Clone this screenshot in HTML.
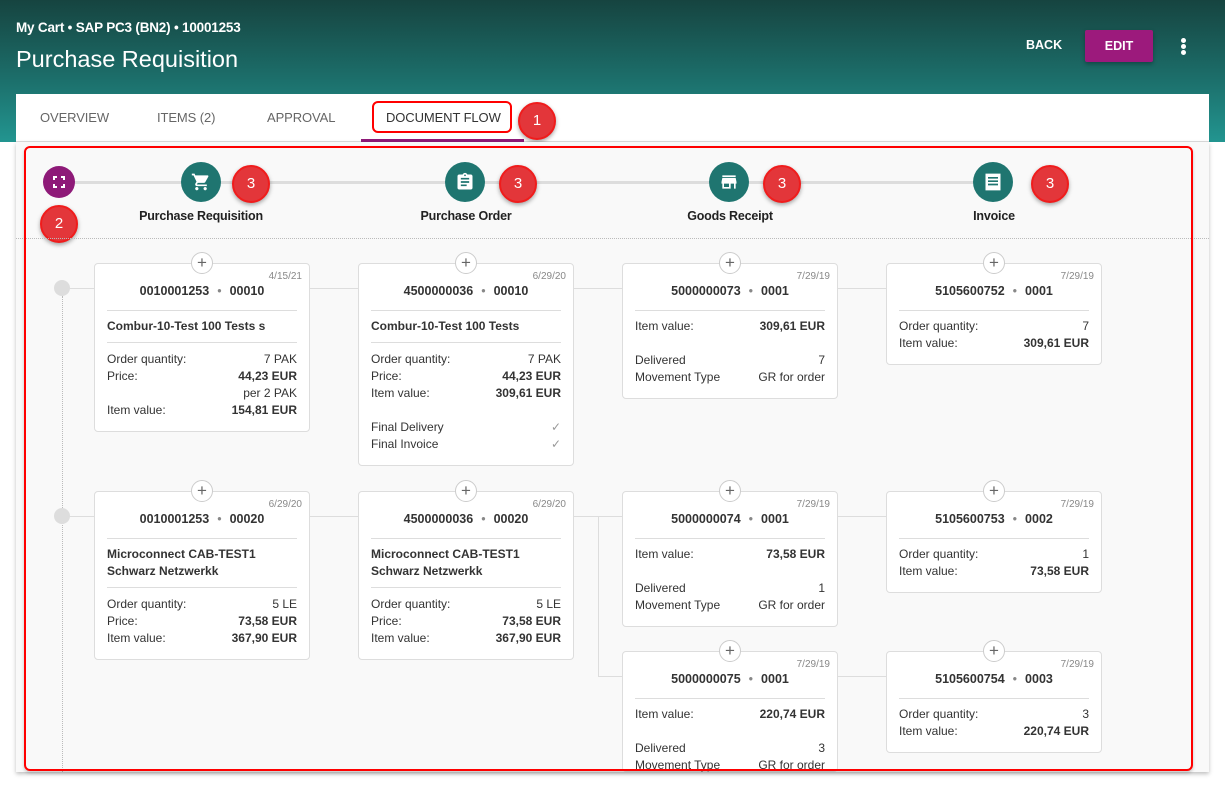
<!DOCTYPE html>
<html><head><meta charset="utf-8">
<style>
*{box-sizing:border-box;margin:0;padding:0}
body{width:1225px;height:788px;overflow:hidden;background:#fff;font-family:"Liberation Sans",Arial,sans-serif;color:#333;position:relative}
.abs{position:absolute}
#hdr{left:0;top:0;width:1225px;height:142px;background:linear-gradient(to bottom,#164440 0%,#1c6e6a 55%,#229590 100%)}
.crumb{left:16px;top:20px;color:#fff;font-size:13.5px;font-weight:bold;letter-spacing:-.2px}
.title{left:16px;top:46px;color:#fff;font-size:23.5px}
.back{left:1026px;top:38px;color:#fff;font-size:12.5px;font-weight:bold}
.edit{left:1085px;top:30px;width:68px;height:32px;background:#9c1a7c;color:#fff;font-size:12.5px;font-weight:bold;text-align:center;line-height:32px;border-radius:2px;box-shadow:0 2px 4px rgba(0,0,0,.3)}
.dot{width:5px;height:5px;border-radius:50%;background:#fff;left:1181px}
#tabs{left:16px;top:94px;width:1193px;height:48px;background:#fff;border-bottom:1px solid #ddd}
.tab{top:110px;font-size:13px;color:#666;letter-spacing:-.1px}
#main{left:16px;top:142px;width:1193px;height:630px;background:#f9f9f9;box-shadow:0 2px 4px rgba(0,0,0,.25)}
.red{border:2px solid #f00;border-radius:6px}
.badge{width:38px;height:38px;border-radius:50%;background:#e3363a;border:2px solid #f01c1c;color:#fff;font-size:15px;text-align:center;line-height:34px;box-shadow:0 2px 4px rgba(0,0,0,.35)}
.ic{width:40px;height:40px;border-radius:50%;background:#1f7570}
.lbl{top:209px;font-size:12.5px;font-weight:bold;color:#222;text-align:center;width:200px;letter-spacing:-.2px}
.card{position:absolute;width:216px;background:#fff;border:1px solid #ddd;border-radius:4px;padding:0 12px 12px;font-size:12px}
.card .d{position:absolute;top:7px;right:7px;font-size:10px;color:#888}
.card .n{margin-top:19px;line-height:16px;text-align:center;font-weight:bold;font-size:12.5px;color:#333}
.card .n span{color:#888;margin:0 8px;font-weight:normal}
.card .hr{height:1px;background:#ddd;margin-top:11px}
.card .t{margin-top:7px;font-weight:bold;line-height:17px}
.card .hr2{height:1px;background:#ddd;margin-top:7px}
.card .rows{margin-top:8px}
.card .rows2{margin-top:7px}
.r{display:flex;justify-content:space-between;line-height:17px;height:17px}
.r b{font-weight:bold}
.plus{position:absolute;top:-12px;left:96px;width:22px;height:22px;border-radius:50%;background:#fff;border:1px solid #ccc;text-align:center;line-height:19px;color:#666;font-size:17px}
.hl{height:1px;background:#ddd}
.vl{width:1px;background:#ddd}
</style></head><body>
<div id="hdr" class="abs"></div>
<div class="abs crumb">My Cart • SAP PC3 (BN2) • 10001253</div>
<div class="abs title">Purchase Requisition</div>
<div class="abs back">BACK</div>
<div class="abs edit">EDIT</div>
<div class="abs dot" style="top:38px"></div><div class="abs dot" style="top:44px"></div><div class="abs dot" style="top:50px"></div>

<div id="tabs" class="abs"></div>
<div class="abs tab" style="left:40px">OVERVIEW</div>
<div class="abs tab" style="left:157px">ITEMS (2)</div>
<div class="abs tab" style="left:267px">APPROVAL</div>
<div class="abs tab" style="left:386px;color:#333">DOCUMENT FLOW</div>
<div class="abs" style="left:361px;top:139px;width:163px;height:3px;background:#8e1a78"></div>
<div class="abs red" style="left:372px;top:101px;width:140px;height:32px"></div>
<div class="abs badge" style="left:518px;top:102px">1</div>

<div id="main" class="abs"></div>
<!-- timeline -->
<div class="abs" style="left:60px;top:181px;width:950px;height:3px;background:#ddd"></div>
<div class="abs" style="left:43px;top:166px;width:32px;height:32px;border-radius:50%;background:#8e1a78"></div>
<svg class="abs" style="left:53px;top:176px" width="12" height="12" viewBox="0 0 12 12"><path d="M1 4V1h3M8 1h3v3M11 8v3H8M4 11H1V8" fill="none" stroke="#fff" stroke-width="2"/></svg>
<div class="abs ic" style="left:181px;top:162px"></div>
<div class="abs ic" style="left:445px;top:162px"></div>
<div class="abs ic" style="left:709px;top:162px"></div>
<div class="abs ic" style="left:973px;top:162px"></div>
<svg class="abs" style="left:191px;top:172px" width="20" height="20" viewBox="0 0 24 24"><path fill="#fff" d="M7 18c-1.1 0-2 .9-2 2s.9 2 2 2 2-.9 2-2-.9-2-2-2zM1 2v2h2l3.6 7.6-1.4 2.4c-.1.3-.2.6-.2 1 0 1.1.9 2 2 2h12v-2H7.4c-.1 0-.2-.1-.2-.2v-.1l.9-1.700h7.4c.8 0 1.4-.4 1.7-1l3.6-6.5c.1-.2.1-.3.1-.5 0-.6-.4-1-1-1H5.2l-.9-2H1zm16 16c-1.1 0-2 .9-2 2s.9 2 2 2 2-.9 2-2-.9-2-2-2z"/></svg>
<svg class="abs" style="left:455px;top:172px" width="20" height="20" viewBox="0 0 24 24"><path fill="#fff" d="M19 3h-4.2C14.4 1.8 13.3 1 12 1s-2.4.8-2.8 2H5c-1.1 0-2 .9-2 2v14c0 1.1.9 2 2 2h14c1.1 0 2-.9 2-2V5c0-1.1-.9-2-2-2zm-7 0c.6 0 1 .4 1 1s-.4 1-1 1-1-.4-1-1 .4-1 1-1zm2 14H7v-2h7v2zm3-4H7v-2h10v2zm0-4H7V7h10v2z"/></svg>
<svg class="abs" style="left:719px;top:172px" width="20" height="20" viewBox="0 0 24 24"><path fill="#fff" d="M20 4H4v2h16V4zm1 10v-2l-1-5H4l-1 5v2h1v6h10v-6h4v6h2v-6h1zm-9 4H6v-4h6v4z"/></svg>
<svg class="abs" style="left:983px;top:172px" width="20" height="20" viewBox="0 0 24 24"><path fill="#fff" d="M3 2h18v20H3zM6 6v2h12V6zm0 4v2h12v-2zm0 4v2h12v-2z"/></svg>
<div class="abs lbl" style="left:101px">Purchase Requisition</div>
<div class="abs lbl" style="left:366px">Purchase Order</div>
<div class="abs lbl" style="left:630px">Goods Receipt</div>
<div class="abs lbl" style="left:894px">Invoice</div>
<div class="abs badge" style="left:232px;top:165px">3</div>
<div class="abs badge" style="left:499px;top:165px">3</div>
<div class="abs badge" style="left:763px;top:165px">3</div>
<div class="abs badge" style="left:1031px;top:165px">3</div>
<div class="abs badge" style="left:40px;top:205px">2</div>
<div class="abs" style="left:16px;top:238px;width:1193px;border-top:1px dotted #bbb"></div>

<!-- tree lines -->
<div class="abs" style="left:62px;top:296px;height:476px;border-left:1px dotted #bbb"></div>
<div class="abs" style="left:54px;top:280px;width:16px;height:16px;border-radius:50%;background:#ddd"></div>
<div class="abs" style="left:54px;top:508px;width:16px;height:16px;border-radius:50%;background:#ddd"></div>
<div class="abs hl" style="left:62px;top:288px;width:1000px"></div>
<div class="abs hl" style="left:62px;top:516px;width:1000px"></div>
<div class="abs vl" style="left:598px;top:516px;height:160px"></div>
<div class="abs hl" style="left:598px;top:676px;width:460px"></div>

<!-- Row 1 -->
<div class="card" style="left:94px;top:263px"><div class="plus">+</div><div class="d">4/15/21</div><div class="n">0010001253<span>•</span>00010</div><div class="hr"></div><div class="t">Combur-10-Test 100 Tests s</div><div class="hr2"></div><div class="rows"><div class="r"><span>Order quantity:</span><span>7 PAK</span></div><div class="r"><span>Price:</span><b>44,23 EUR</b></div><div class="r"><span></span><span>per 2 PAK</span></div><div class="r"><span>Item value:</span><b>154,81 EUR</b></div></div></div>
<div class="card" style="left:358px;top:263px"><div class="plus">+</div><div class="d">6/29/20</div><div class="n">4500000036<span>•</span>00010</div><div class="hr"></div><div class="t">Combur-10-Test 100 Tests</div><div class="hr2"></div><div class="rows"><div class="r"><span>Order quantity:</span><span>7 PAK</span></div><div class="r"><span>Price:</span><b>44,23 EUR</b></div><div class="r"><span>Item value:</span><b>309,61 EUR</b></div><div class="r"></div><div class="r"><span>Final Delivery</span><span style="color:#999">✓</span></div><div class="r"><span>Final Invoice</span><span style="color:#999">✓</span></div></div></div>
<div class="card" style="left:622px;top:263px"><div class="plus">+</div><div class="d">7/29/19</div><div class="n">5000000073<span>•</span>0001</div><div class="hr"></div><div class="rows2"><div class="r"><span>Item value:</span><b>309,61 EUR</b></div><div class="r"></div><div class="r"><span>Delivered</span><span>7</span></div><div class="r"><span>Movement Type</span><span>GR for order</span></div></div></div>
<div class="card" style="left:886px;top:263px"><div class="plus">+</div><div class="d">7/29/19</div><div class="n">5105600752<span>•</span>0001</div><div class="hr"></div><div class="rows2"><div class="r"><span>Order quantity:</span><span>7</span></div><div class="r"><span>Item value:</span><b>309,61 EUR</b></div></div></div>

<!-- Row 2 -->
<div class="card" style="left:94px;top:491px"><div class="plus">+</div><div class="d">6/29/20</div><div class="n">0010001253<span>•</span>00020</div><div class="hr"></div><div class="t">Microconnect CAB-TEST1<br>Schwarz Netzwerkk</div><div class="hr2"></div><div class="rows"><div class="r"><span>Order quantity:</span><span>5 LE</span></div><div class="r"><span>Price:</span><b>73,58 EUR</b></div><div class="r"><span>Item value:</span><b>367,90 EUR</b></div></div></div>
<div class="card" style="left:358px;top:491px"><div class="plus">+</div><div class="d">6/29/20</div><div class="n">4500000036<span>•</span>00020</div><div class="hr"></div><div class="t">Microconnect CAB-TEST1<br>Schwarz Netzwerkk</div><div class="hr2"></div><div class="rows"><div class="r"><span>Order quantity:</span><span>5 LE</span></div><div class="r"><span>Price:</span><b>73,58 EUR</b></div><div class="r"><span>Item value:</span><b>367,90 EUR</b></div></div></div>
<div class="card" style="left:622px;top:491px"><div class="plus">+</div><div class="d">7/29/19</div><div class="n">5000000074<span>•</span>0001</div><div class="hr"></div><div class="rows2"><div class="r"><span>Item value:</span><b>73,58 EUR</b></div><div class="r"></div><div class="r"><span>Delivered</span><span>1</span></div><div class="r"><span>Movement Type</span><span>GR for order</span></div></div></div>
<div class="card" style="left:886px;top:491px"><div class="plus">+</div><div class="d">7/29/19</div><div class="n">5105600753<span>•</span>0002</div><div class="hr"></div><div class="rows2"><div class="r"><span>Order quantity:</span><span>1</span></div><div class="r"><span>Item value:</span><b>73,58 EUR</b></div></div></div>

<!-- Row 3 -->
<div class="card" style="left:622px;top:651px;height:121px;overflow:visible;clip-path:inset(-14px -2px 0 -2px)"><div class="plus">+</div><div class="d">7/29/19</div><div class="n">5000000075<span>•</span>0001</div><div class="hr"></div><div class="rows2"><div class="r"><span>Item value:</span><b>220,74 EUR</b></div><div class="r"></div><div class="r"><span>Delivered</span><span>3</span></div><div class="r"><span>Movement Type</span><span>GR for order</span></div></div></div>
<div class="card" style="left:886px;top:651px"><div class="plus">+</div><div class="d">7/29/19</div><div class="n">5105600754<span>•</span>0003</div><div class="hr"></div><div class="rows2"><div class="r"><span>Order quantity:</span><span>3</span></div><div class="r"><span>Item value:</span><b>220,74 EUR</b></div></div></div>

<div class="abs red" style="left:24px;top:146px;width:1169px;height:625px;box-shadow:0 2px 3px rgba(0,0,0,.2)"></div>
</body></html>
